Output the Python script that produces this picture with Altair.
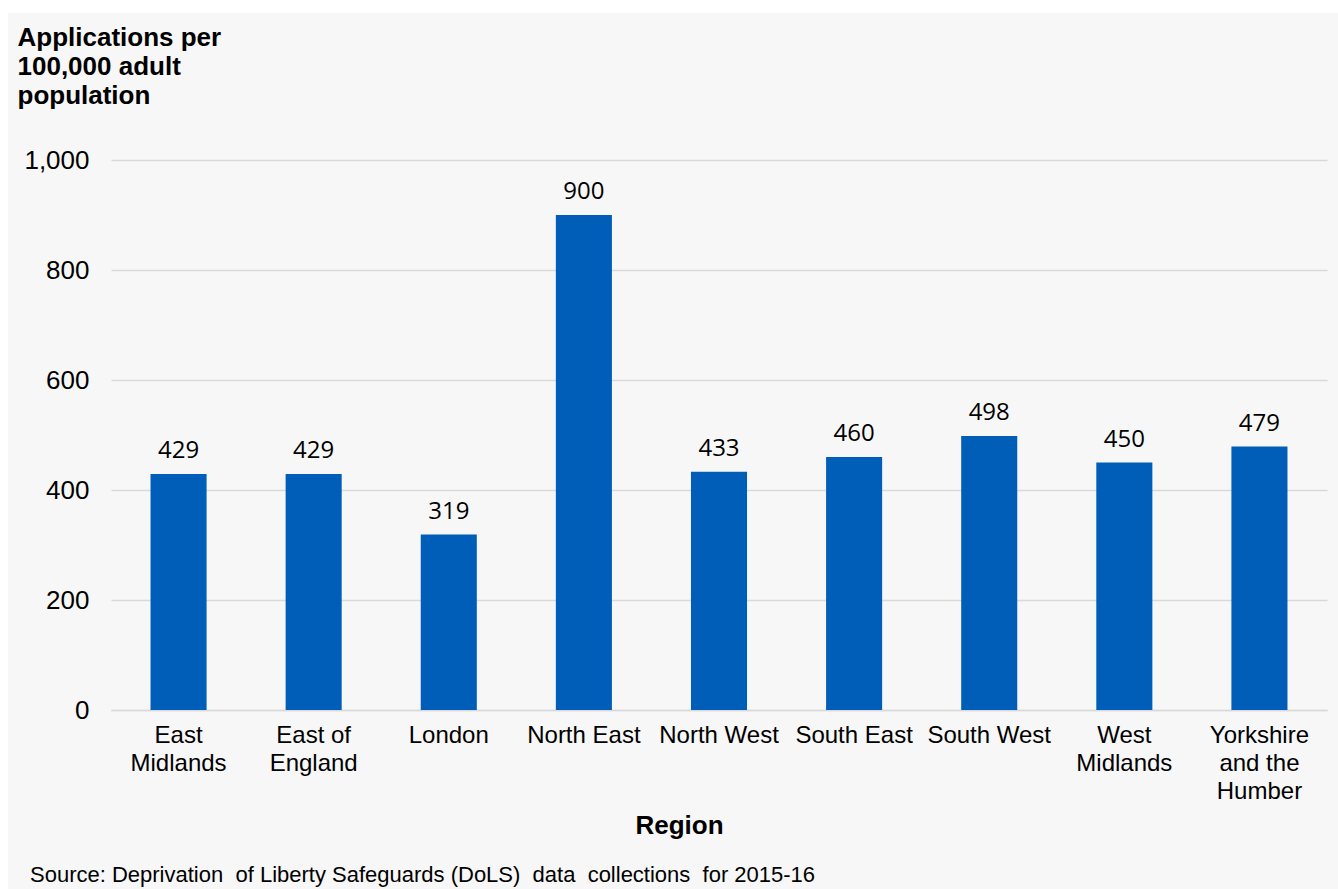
import altair as alt
import pandas as pd

regions = ["East Midlands", "East of England", "London", "North East", "North West",
           "South East", "South West", "West Midlands", "Yorkshire and the Humber"]
values = [429, 429, 319, 900, 433, 460, 498, 450, 479]
label_lines = {
    "East Midlands": ["East", "Midlands"],
    "East of England": ["East of", "England"],
    "London": ["London"],
    "North East": ["North East"],
    "North West": ["North West"],
    "South East": ["South East"],
    "South West": ["South West"],
    "West Midlands": ["West", "Midlands"],
    "Yorkshire and the Humber": ["Yorkshire", "and the", "Humber"],
}
y_title = ["Applications per", "100,000 adult", "population"]
x_title = "Region"
source_text = "Source: Deprivation\u00a0 of Liberty Safeguards (DoLS)\u00a0 data\u00a0 collections\u00a0 for 2015-16"

df = pd.DataFrame({"region": regions, "value": values})

L, T = 111, 160
W, H = 1216, 550

label_expr = " : ".join(
    f"datum.value == '{k}' ? {v!r}" for k, v in label_lines.items()
) + " : datum.value"

base = alt.Chart(df)

x_enc = alt.X(
    "region:N", sort=regions,
    scale=alt.Scale(paddingInner=0.585, paddingOuter=0.2925),
    axis=alt.Axis(
        title=x_title, labelAngle=0, labelExpr=label_expr,
        labelFont="Liberation Sans", labelFontSize=24, labelColor="#000000",
        labelBaseline="top", labelPadding=13, labelLineHeight=28,
        ticks=False, domain=True, domainColor="#D9D9D9", domainWidth=1.5,
        titleFont="Liberation Sans", titleFontSize=26, titleFontWeight="bold",
        titleColor="#000000", titleX=679 - L, titleY=833 - T - H,
        titleBaseline="alphabetic", titleAnchor=None, titleAlign="center",
    ),
)
y_enc = alt.Y(
    "value:Q", scale=alt.Scale(domain=[0, 1000]),
    axis=alt.Axis(
        values=[0, 200, 400, 600, 800, 1000], format=",.0f",
        title=y_title, titleAngle=0, titleAlign="left", titleBaseline="alphabetic",
        titleX=17 - L, titleY=45 - T, titleFont="Liberation Sans", titleFontSize=26,
        titleFontWeight="bold", titleColor="#000000", titleLineHeight=29,
        labelFont="Liberation Sans", labelFontSize=26, labelColor="#000000",
        labelPadding=22, ticks=False, domain=False,
        grid=True, gridColor="#D9D9D9", gridWidth=1.5,
    ),
)

bars = base.mark_bar(color="#005EB8").encode(x=x_enc, y=y_enc)
labels = base.mark_text(
    font="Open Sans", fontSize=24, color="#000000", baseline="alphabetic", dy=-16
).encode(x=alt.X("region:N", sort=regions), y="value:Q", text="value:Q")

one = pd.DataFrame({"t": [source_text]})
source = alt.Chart(one).mark_text(
    font="Liberation Sans", fontSize=22, color="#000000", align="left",
    baseline="alphabetic"
).encode(text="t:N", x=alt.value(30 - L), y=alt.value(882 - T))

white_top = alt.Chart(one).mark_rect(color="#FFFFFF").encode(
    x=alt.value(-L), x2=alt.value(1338 - L), y=alt.value(-T), y2=alt.value(13 - T))
white_left = alt.Chart(one).mark_rect(color="#FFFFFF").encode(
    x=alt.value(-L), x2=alt.value(8 - L), y=alt.value(-T), y2=alt.value(889 - T))

chart = alt.layer(white_top, white_left, bars, labels, source).properties(
    width=W, height=H,
    autosize=alt.AutoSizeParams(type="none"),
    padding={"left": L, "top": T, "right": 1338 - L - W, "bottom": 889 - T - H},
    background="#F7F7F7",
).configure_view(stroke=None)

chart.save("out.html", embed_options={"renderer": "svg", "actions": False})
